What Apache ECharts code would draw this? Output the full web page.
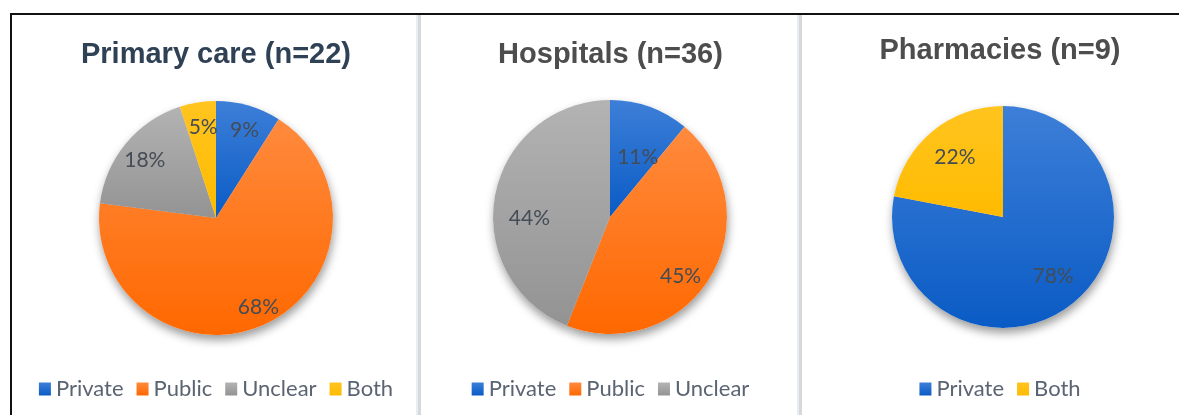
<!DOCTYPE html>
<html>
<head>
<meta charset="utf-8">
<script src="https://cdn.jsdelivr.net/npm/echarts@6/dist/echarts.min.js"></script>
<style>
  html, body { margin: 0; padding: 0; background: #fff; }
  body { width: 1179px; height: 415px; position: relative; overflow: hidden; }
  .frame { position: absolute; left: 10px; top: 13px; right: -10px; bottom: -10px;
    border-top: 2px solid #111; border-left: 2px solid #111; }
  .divider { position: absolute; top: 15px; bottom: 0; width: 3px; background: #d6d8db;
    border-left: 2px solid #e6edf5; }
  .panel { position: absolute; top: 0; height: 415px; }
</style>
</head>
<body>
<div class="frame"></div>
<div class="divider" style="left:416px"></div>
<div class="divider" style="left:797px"></div>
<div id="p1" class="panel" style="left:12px;width:408px"></div>
<div id="p2" class="panel" style="left:423px;width:375px"></div>
<div id="p3" class="panel" style="left:804px;width:392px"></div>
<script>
// values as printed on the slices (%)
const titles = ['Primary care (n=22)', 'Hospitals (n=36)', 'Pharmacies (n=9)']
const primaryNames = ['Private', 'Public', 'Unclear', 'Both']
const primaryValues = [9, 68, 18, 5]
const hospitalNames = ['Private', 'Public', 'Unclear']
const hospitalValues = [11, 45, 44]
const pharmacyNames = ['Private', 'Both']
const pharmacyValues = [78, 22]

const palette = {
  Private: ['#3d7fd8', '#0a5bc5'],
  Public: ['#ff8a3d', '#ff6800'],
  Unclear: ['#b3b3b3', '#939393'],
  Both: ['#ffc41f', '#ffbb00'],
}

const fill = (name) =>
  new echarts.graphic.LinearGradient(0, 0, 0, 1, [
    { offset: 0, color: palette[name][0] },
    { offset: 1, color: palette[name][1] },
  ])

function build(el, cfg) {
  const chart = echarts.init(document.getElementById(el))
  const data = cfg.names.map((n, i) => ({ name: n, value: cfg.values[i] }))
  const base = {
    type: 'pie',
    center: cfg.center,
    startAngle: 90,
    clockwise: true,
    animation: false,
    emphasis: { disabled: true },
    labelLine: { show: false },
  }
  chart.setOption({
    title: {
      text: cfg.title,
      left: 'center',
      top: cfg.titleTop,
      textStyle: {
        fontFamily: 'Liberation Sans, Arial, sans-serif',
        fontWeight: 'bold',
        fontSize: 29,
        color: cfg.titleColor,
      },
    },
    legend: {
      data: cfg.names,
      left: 'center',
      top: 373,
      icon: 'rect',
      itemWidth: 12,
      itemHeight: 13,
      itemGap: 13,
      selectedMode: false,
      textStyle: { fontFamily: 'Lato, sans-serif', fontSize: 22, color: '#5a6472' },
    },
    series: [
      {
        ...base,
        name: 'main',
        z: 3,
        radius: [0, cfg.r],
        label: { show: false },
        itemStyle: { color: (p) => fill(p.name) },
        data,
      },
      {
        ...base,
        name: 'shadow',
        z: 2,
        silent: true,
        radius: [0, cfg.r],
        label: { show: false },
        itemStyle: {
          color: '#fff',
          shadowBlur: 10,
          shadowOffsetY: 5,
          shadowOffsetX: 1,
          shadowColor: 'rgba(0,0,0,0.4)',
        },
        data,
      },
      {
        ...base,
        name: 'labels',
        z: 4,
        silent: true,
        radius: [0, cfg.labelR],
        itemStyle: { color: 'transparent' },
        label: {
          show: true,
          position: 'inside',
          formatter: '{c}%',
          offset: cfg.labelOffset,
          fontFamily: 'Lato, sans-serif',
          fontSize: 21,
          color: '#444c56',
        },
        data,
      },
    ],
  })
  window.addEventListener('resize', () => chart.resize())
}

build('p1', {
  title: titles[0], titleColor: '#2f4155', titleTop: 35,
  names: primaryNames, values: primaryValues,
  center: [204, 218], r: 117, labelR: 184, labelOffset: [2, 3],
})
build('p2', {
  title: titles[1], titleColor: '#4d4d4d', titleTop: 35,
  names: hospitalNames, values: hospitalValues,
  center: [187, 217], r: 117, labelR: 158, labelOffset: [0, 17],
})
build('p3', {
  title: titles[2], titleColor: '#4d4d4d', titleTop: 31,
  names: pharmacyNames, values: pharmacyValues,
  center: [199, 217], r: 111, labelR: 148, labelOffset: [1, 0],
})
</script>
</body>
</html>
